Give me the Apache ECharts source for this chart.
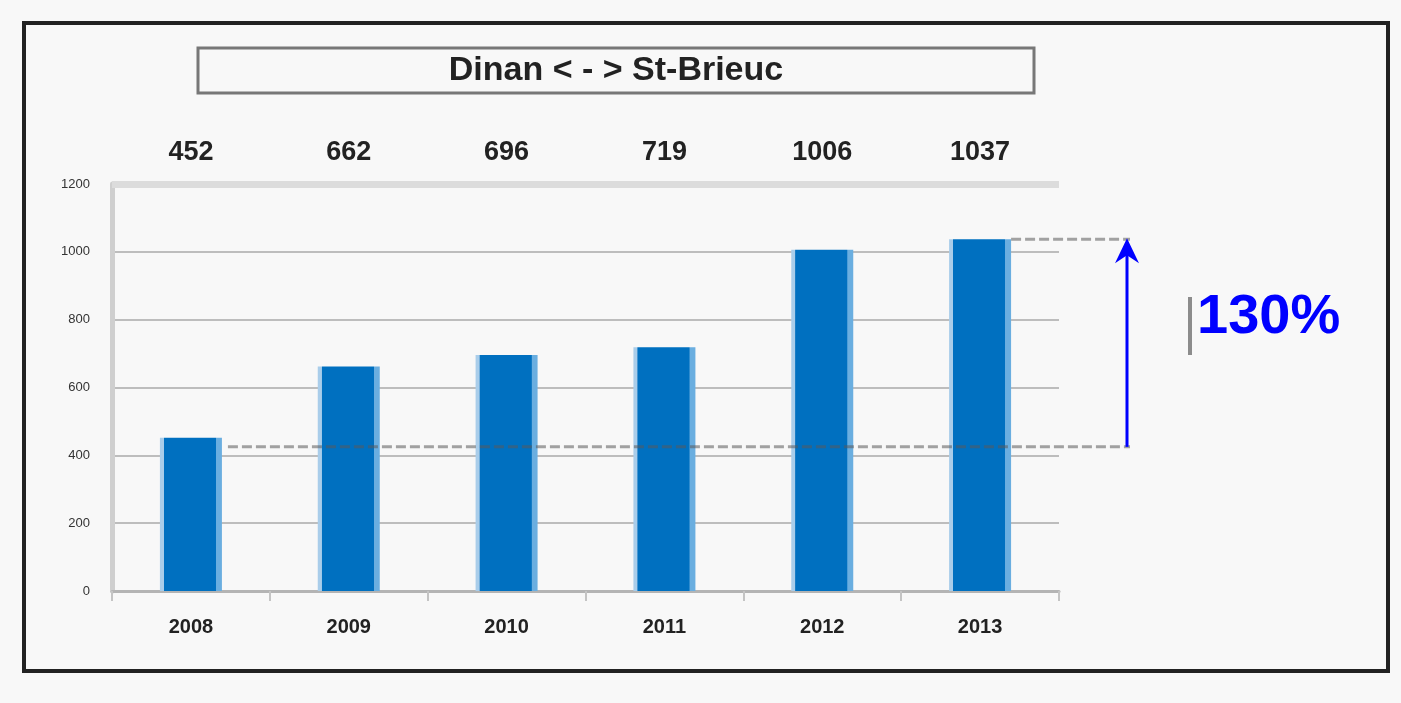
<!DOCTYPE html>
<html>
<head>
<meta charset="utf-8">
<script src="https://cdn.jsdelivr.net/npm/echarts@6/dist/echarts.min.js"></script>
<style>
html, body { margin: 0; padding: 0; background: #f8f8f8; }
#main { width: 1401px; height: 703px; }
</style>
</head>
<body>
<div id="main"></div>
<script>
// données
var years = ['2008', '2009', '2010', '2011', '2012', '2013'];
var trips = [452, 662, 696, 719, 1006, 1037];
var topLabels = ['452', '662', '696', '719', '1006', '1037'];
var yTicks = [0, 200, 400, 600, 800, 1000, 1200];
var baseLevel = 425;      // niveau du départ de la flèche
var growthText = '130%';
var chartTitle = 'Dinan < - > St-Brieuc';

var myChart = echarts.init(document.getElementById('main'));

var barColor = new echarts.graphic.LinearGradient(0, 0, 1, 0, [
    { offset: 0, color: '#a9cdea' },
    { offset: 0.06, color: '#a9cdea' },
    { offset: 0.07, color: '#0070c0' },
    { offset: 0.9, color: '#0070c0' },
    { offset: 0.91, color: '#6aaee0' },
    { offset: 1, color: '#6aaee0' }
]);

myChart.setOption({
    backgroundColor: '#f8f8f8',
    textStyle: { fontFamily: 'Liberation Sans, Arial, sans-serif' },
    animation: false,
    grid: { left: 112, right: 342, top: 184, bottom: 112 },
    xAxis: [{
        type: 'category',
        data: years,
        axisLine: { lineStyle: { color: '#b4b4b4', width: 3 } },
        axisTick: { show: true, length: 10, lineStyle: { color: '#c4c4c4', width: 2 } },
        axisLabel: { color: '#222', fontSize: 20, fontWeight: 'bold', margin: 26 }
    }, {
        type: 'category',
        position: 'top',
        data: topLabels,
        axisLine: { show: false },
        axisTick: { show: false },
        axisLabel: { color: '#222', fontSize: 27, fontWeight: 'bold', margin: 18 }
    }],
    yAxis: {
        type: 'value',
        min: yTicks[0],
        max: yTicks[yTicks.length - 1],
        interval: 200,
        axisLine: { show: true, lineStyle: { color: '#cfcfcf', width: 5 } },
        axisTick: { show: false },
        axisLabel: {
            color: '#333', fontSize: 13, margin: 22,
            formatter: function (v) { return String(v); }
        },
        splitLine: { lineStyle: { color: '#bdbdbd', width: 2 } }
    },
    series: [{
        type: 'bar',
        data: trips,
        barWidth: 62,
        itemStyle: { color: barColor },
        markLine: {
            silent: true,
            symbol: 'none',
            label: { show: false },
            lineStyle: { color: '#dcdcdc', width: 7, type: 'solid' },
            data: [{ yAxis: yTicks[yTicks.length - 1] }]
        }
    }]
});

// annotations placées à partir des échelles du graphique
var yBase = myChart.convertToPixel({ yAxisIndex: 0 }, baseLevel);
var yTop = myChart.convertToPixel({ yAxisIndex: 0 }, trips[trips.length - 1]);
var xFirst = myChart.convertToPixel({ xAxisIndex: 0 }, years[0]) + 37;
var xLast = myChart.convertToPixel({ xAxisIndex: 0 }, years[years.length - 1]) + 31;
var xArrow = 1127;

myChart.setOption({
    graphic: [
        {
            type: 'rect', id: 'frame', z: 100,
            shape: { x: 24, y: 23, width: 1364, height: 648 },
            style: { fill: 'none', stroke: '#222', lineWidth: 4 }
        },
        {
            type: 'rect', id: 'titlebox', z: 100,
            shape: { x: 198, y: 48, width: 836, height: 45 },
            style: { fill: '#f8f8f8', stroke: '#777', lineWidth: 3 }
        },
        {
            type: 'text', id: 'title', z: 101,
            x: 616, y: 71,
            style: {
                text: chartTitle, fill: '#222', font: 'bold 34px "Liberation Sans", Arial',
                align: 'center', verticalAlign: 'middle'
            }
        },
        {
            type: 'line', id: 'baseLine', z: 100,
            shape: { x1: xFirst, y1: yBase, x2: xArrow + 3, y2: yBase },
            style: { stroke: 'rgba(90,90,90,0.55)', lineWidth: 3, lineDash: [10, 4] }
        },
        {
            type: 'line', id: 'topLine', z: 100,
            shape: { x1: xLast, y1: yTop, x2: xArrow + 3, y2: yTop },
            style: { stroke: 'rgba(90,90,90,0.55)', lineWidth: 3, lineDash: [10, 4] }
        },
        {
            type: 'line', id: 'arrow', z: 101,
            shape: { x1: xArrow, y1: yBase, x2: xArrow, y2: yTop + 10 },
            style: { stroke: '#0000ff', lineWidth: 3 }
        },
        {
            type: 'polygon', id: 'arrowHead', z: 101,
            shape: { points: [[xArrow, yTop - 1], [xArrow - 12, yTop + 24], [xArrow, yTop + 16], [xArrow + 12, yTop + 24]] },
            style: { fill: '#0000ff' }
        },
        {
            type: 'rect', id: 'cursor', z: 100,
            shape: { x: 1188, y: 297, width: 4, height: 58 },
            style: { fill: '#8c8c8c' }
        },
        {
            type: 'text', id: 'growth', z: 101,
            x: 1197, y: 318,
            style: {
                text: growthText, fill: '#0000ff', font: 'bold 56px "Liberation Sans", Arial',
                align: 'left', verticalAlign: 'middle'
            }
        }
    ]
});
</script>
</body>
</html>
